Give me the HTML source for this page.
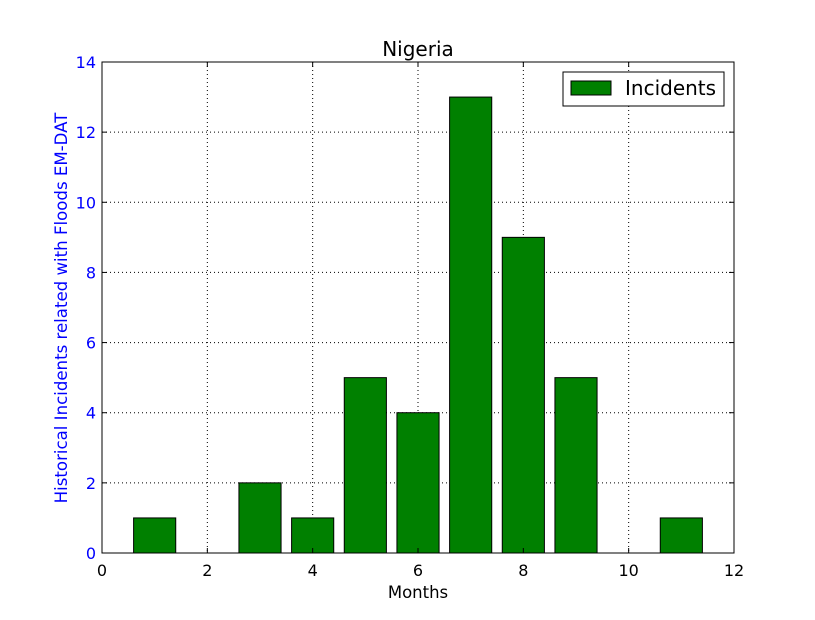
<!DOCTYPE html>
<html><head><meta charset="utf-8"><style>
body{margin:0;background:#fff;}
svg text{font-family:"DejaVu Sans","Liberation Sans",sans-serif;}
</style></head><body>
<svg id="chart" width="815" height="615" xmlns="http://www.w3.org/2000/svg">
<rect width="815" height="615" fill="#fff"/>
<g id="grid"></g>
<g id="bars"></g>
<rect x="102" y="62" width="632" height="491" fill="none" stroke="#000" stroke-width="1"/>
<g id="xt"></g>
<g id="yt"></g>
<text x="418" y="56" text-anchor="middle" font-size="20">Nigeria</text>
<text x="418" y="598" text-anchor="middle" font-size="16.5">Months</text>
<text transform="translate(67,308) rotate(-90)" text-anchor="middle" font-size="16.6" fill="#0000ff">Historical Incidents related with Floods EM-DAT</text>
<g>
<rect x="563" y="72" width="161" height="34" fill="#fff" stroke="#000"/>
<rect x="571" y="81" width="40" height="14" fill="#008000" stroke="#000"/>
<text x="625" y="95" font-size="20">Incidents</text>
</g>
</svg>
<script>
const months=[0,1,2,3,4,5,6,7,8,9,10,11];
const incidents=[0,1,0,2,1,5,4,13,9,5,0,1];
const xTicks=[0,2,4,6,8,10,12];
const yTicks=[0,2,4,6,8,10,12,14];
const NS="http://www.w3.org/2000/svg";
const X0=102,X1=734,Y0=553,Y1=62;
const xs=v=>X0+(v-0)/12*(X1-X0);
const ys=v=>Y0-(v-0)/14*(Y0-Y1);
function mk(t,a,p){const e=document.createElementNS(NS,t);for(const k in a)e.setAttribute(k,a[k]);p.appendChild(e);return e;}
const grid=document.getElementById('grid'),bars=document.getElementById('bars'),xt=document.getElementById('xt'),yt=document.getElementById('yt');
xTicks.forEach(v=>{const x=xs(v);
 if(v>0&&v<12){const l=mk('line',{x1:x,x2:x,y1:Y1,y2:Y0,stroke:'#000','stroke-dasharray':'1,3'},grid);
 
 }
 mk('line',{x1:x,x2:x,y1:Y0,y2:Y0-5,stroke:'#000'},xt);
 mk('line',{x1:x,x2:x,y1:Y1,y2:Y1+5,stroke:'#000'},xt);
 const t=mk('text',{x:x,y:Y0+23,'text-anchor':'middle','font-size':16},xt);t.textContent=v;
 
 
});
yTicks.forEach(v=>{const y=ys(v);
 if(v>0&&v<14){const l=mk('line',{x1:X0,x2:X1,y1:y,y2:y,stroke:'#000','stroke-dasharray':'1,3'},grid);
 
 }
 mk('line',{x1:X0,x2:X0+5,y1:y,y2:y,stroke:'#000'},yt);
 mk('line',{x1:X1,x2:X1-5,y1:y,y2:y,stroke:'#000'},yt);
 const t=mk('text',{x:X0-6,y:y+6,'text-anchor':'end','font-size':16,fill:'#0000ff'},yt);t.textContent=v;
 
 
});
months.forEach((m,i)=>{let a=xs(m-0.4),b=xs(m+0.4);a=Math.max(a,X0);b=Math.min(b,X1);
 const y=ys(incidents[i]);
 const r=mk('rect',{x:a,y:y,width:b-a,height:Y0-y,fill:'#008000',stroke:'#000','stroke-width':1},bars);
 
 
});
</script>
</body></html>
